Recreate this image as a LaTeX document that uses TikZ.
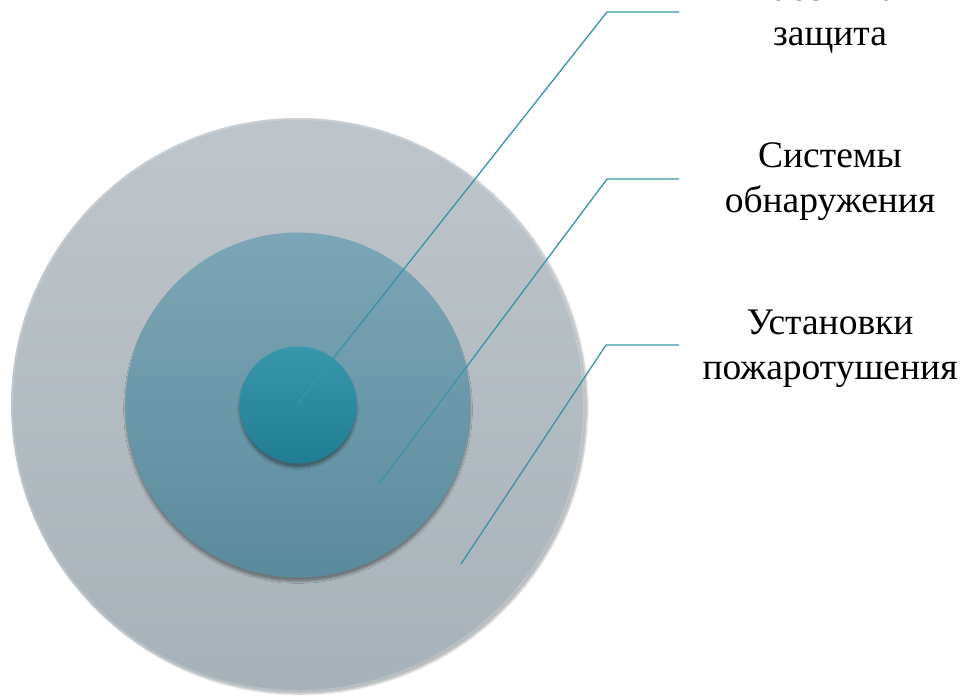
\documentclass[tikz,border=0pt]{standalone}
\usepackage{fontspec}
\setmainfont{Liberation Serif}
\usetikzlibrary{shadows.blur}
\definecolor{outertop}{HTML}{BEC5CA}
\definecolor{outerbot}{HTML}{A7B2B8}
\definecolor{midtop}{HTML}{7CA6B6}
\definecolor{midbot}{HTML}{5A8B9B}
\definecolor{coretop}{HTML}{3997AC}
\definecolor{corebot}{HTML}{207D93}
\definecolor{leader}{HTML}{3A93A8}

\begin{document}
\begin{tikzpicture}[x=1pt, y=-1pt, every node/.style={align=center, font=\fontsize{37.5}{45}\selectfont},
    ring/.style={circle, inner sep=0pt, blur shadow={shadow xshift=0pt, shadow yshift=-4pt, shadow blur steps=8, shadow opacity=35}},
    leaderline/.style={draw=leader, line width=1.3pt}]
    \useasboundingbox (0,0) rectangle (963,696);
    % Rings
    \node (outer) [ring, minimum size=574pt, top color=outertop, bottom color=outerbot, blur shadow={shadow yshift=-2pt, shadow opacity=15}] at (298,405) {};
    \draw[white, opacity=0.18, line width=2pt] (outer.center) circle (286pt);
    \node (middle) [ring, minimum size=345pt, top color=midtop, bottom color=midbot] at (298,405) {};
    \node (core) [ring, minimum size=117pt, top color=coretop, bottom color=corebot] at (298,405) {};

    % Labels
    \node (passive) at (830,15) {Пассивная\\защита};
    \node (detect) at (830,182) {Системы\\обнаружения};
    \node (extinguish) at (830,349) {Установки\\пожаротушения};

    % Leaders
    \coordinate (tip1) at (298,403);
    \coordinate (bend1) at (607,12);
    \coordinate (end1) at (679,12);
    \coordinate (tip2) at (379,484);
    \coordinate (bend2) at (607,179);
    \coordinate (end2) at (679,179);
    \coordinate (tip3) at (461,564);
    \coordinate (bend3) at (606,345);
    \coordinate (end3) at (679,345);
    \draw[leaderline] (tip1) -- (bend1) -- (end1);
    \draw[leaderline] (tip2) -- (bend2) -- (end2);
    \draw[leaderline] (tip3) -- (bend3) -- (end3);
\end{tikzpicture}
\end{document}
